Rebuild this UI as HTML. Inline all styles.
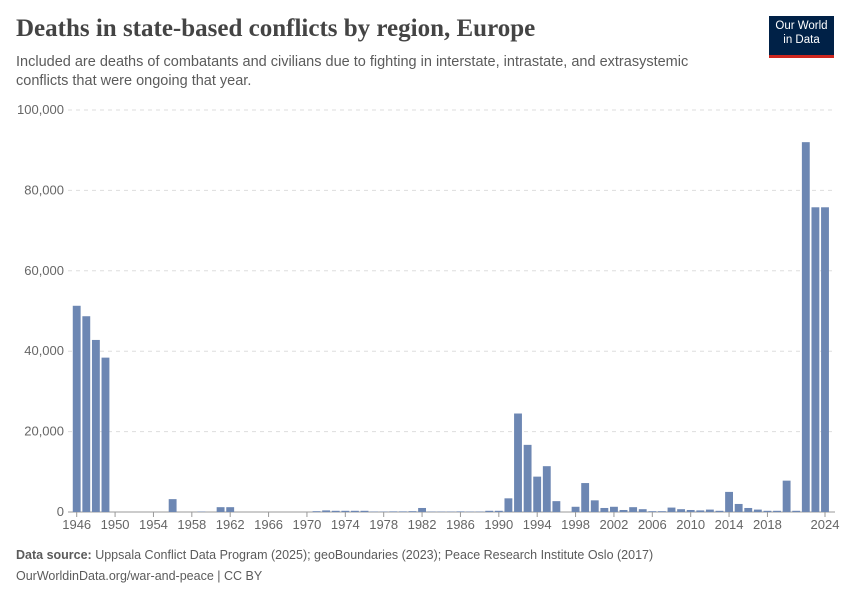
<!DOCTYPE html>
<html><head><meta charset="utf-8"><style>
body{margin:0;background:#fff;font-family:"Liberation Sans",sans-serif;}
#wrap{position:relative;width:850px;height:600px;overflow:hidden;}
.t{position:absolute;}
</style></head><body>
<div id="wrap">
<div class="t" style="left:16px;top:15px;font-family:'Liberation Serif',serif;font-size:25px;font-weight:bold;color:#444;">Deaths in state-based conflicts by region, Europe</div>
<div class="t" style="left:16px;top:53px;font-size:14.5px;color:#5b5b5b;line-height:19px;width:720px;">Included are deaths of combatants and civilians due to fighting in interstate, intrastate, and extrasystemic conflicts that were ongoing that year.</div>
<div class="t" style="left:769px;top:16px;width:65px;height:36px;background:#002147;border-bottom:3px solid #ce261e;color:#fff;font-size:11.5px;text-align:center;line-height:14px;padding-top:3px;box-sizing:content-box;">Our World<br>in Data</div>
<svg id="svg" width="850" height="600" style="position:absolute;left:0;top:0;"></svg>
<div class="t" style="left:16px;top:548px;font-size:12.5px;color:#5b5b5b;"><b>Data source:</b> Uppsala Conflict Data Program (2025); geoBoundaries (2023); Peace Research Institute Oslo (2017)</div>
<div class="t" style="left:16px;top:569px;font-size:12.5px;color:#5b5b5b;">OurWorldinData.org/war-and-peace | CC BY</div>
</div>
<script>
const years=[];for(let y=1946;y<=2024;y++)years.push(y);
const deaths=[51300,48700,42800,38400,0,0,0,0,0,0,3200,0,0,100,0,1200,1200,0,0,0,0,0,0,0,0,200,400,300,300,300,300,100,100,150,150,200,1000,100,100,100,150,100,100,300,300,3400,24500,16700,8800,11400,2700,0,1300,7200,2900,1000,1300,500,1200,700,200,200,1100,700,500,400,600,300,5000,2000,1000,600,300,300,7800,300,92000,75800,75800];
const yTicks=[0,20000,40000,60000,80000,100000];
const xTicks=[1946,1950,1954,1958,1962,1966,1970,1974,1978,1982,1986,1990,1994,1998,2002,2006,2010,2014,2018,2024];
const svg=document.getElementById('svg');const NS='http://www.w3.org/2000/svg';
const y0=512,y1=110,xa=76.7,xb=825;
const ys=v=>y0-(v/100000)*(y0-y1);
const xs=yr=>xa+(yr-1946)*(xb-xa)/78;
const bw=(xb-xa)/78*0.82;
function mk(t,a){const e=document.createElementNS(NS,t);for(const k in a)e.setAttribute(k,a[k]);svg.appendChild(e);return e;}
yTicks.forEach(v=>{
 const l=mk('line',{x1:68,x2:835,y1:ys(v),y2:ys(v),stroke:v?'#ddd':'#999','stroke-dasharray':v?'4,4':'none'});
 
 
 const t=mk('text',{x:64,y:ys(v)+4,'font-size':13,fill:'#666','text-anchor':'end','font-family':'Liberation Sans'});
 t.textContent=v.toLocaleString('en-US');
 
 
});
years.forEach((yr,i)=>{
 const v=deaths[i];if(!v)return;
 const r=mk('rect',{x:xs(yr)-bw/2,y:ys(v),width:bw,height:y0-ys(v),fill:'#6d87b3'});
 
 
});
xTicks.forEach(yr=>{
 const l=mk('line',{x1:xs(yr),x2:xs(yr),y1:y0,y2:y0+5,stroke:'#999'});
 
 
 const t=mk('text',{x:xs(yr),y:y0+17,'font-size':13,fill:'#666','text-anchor':'middle','font-family':'Liberation Sans'});
 t.textContent=yr;
 
 
});
</script>
</body></html>
